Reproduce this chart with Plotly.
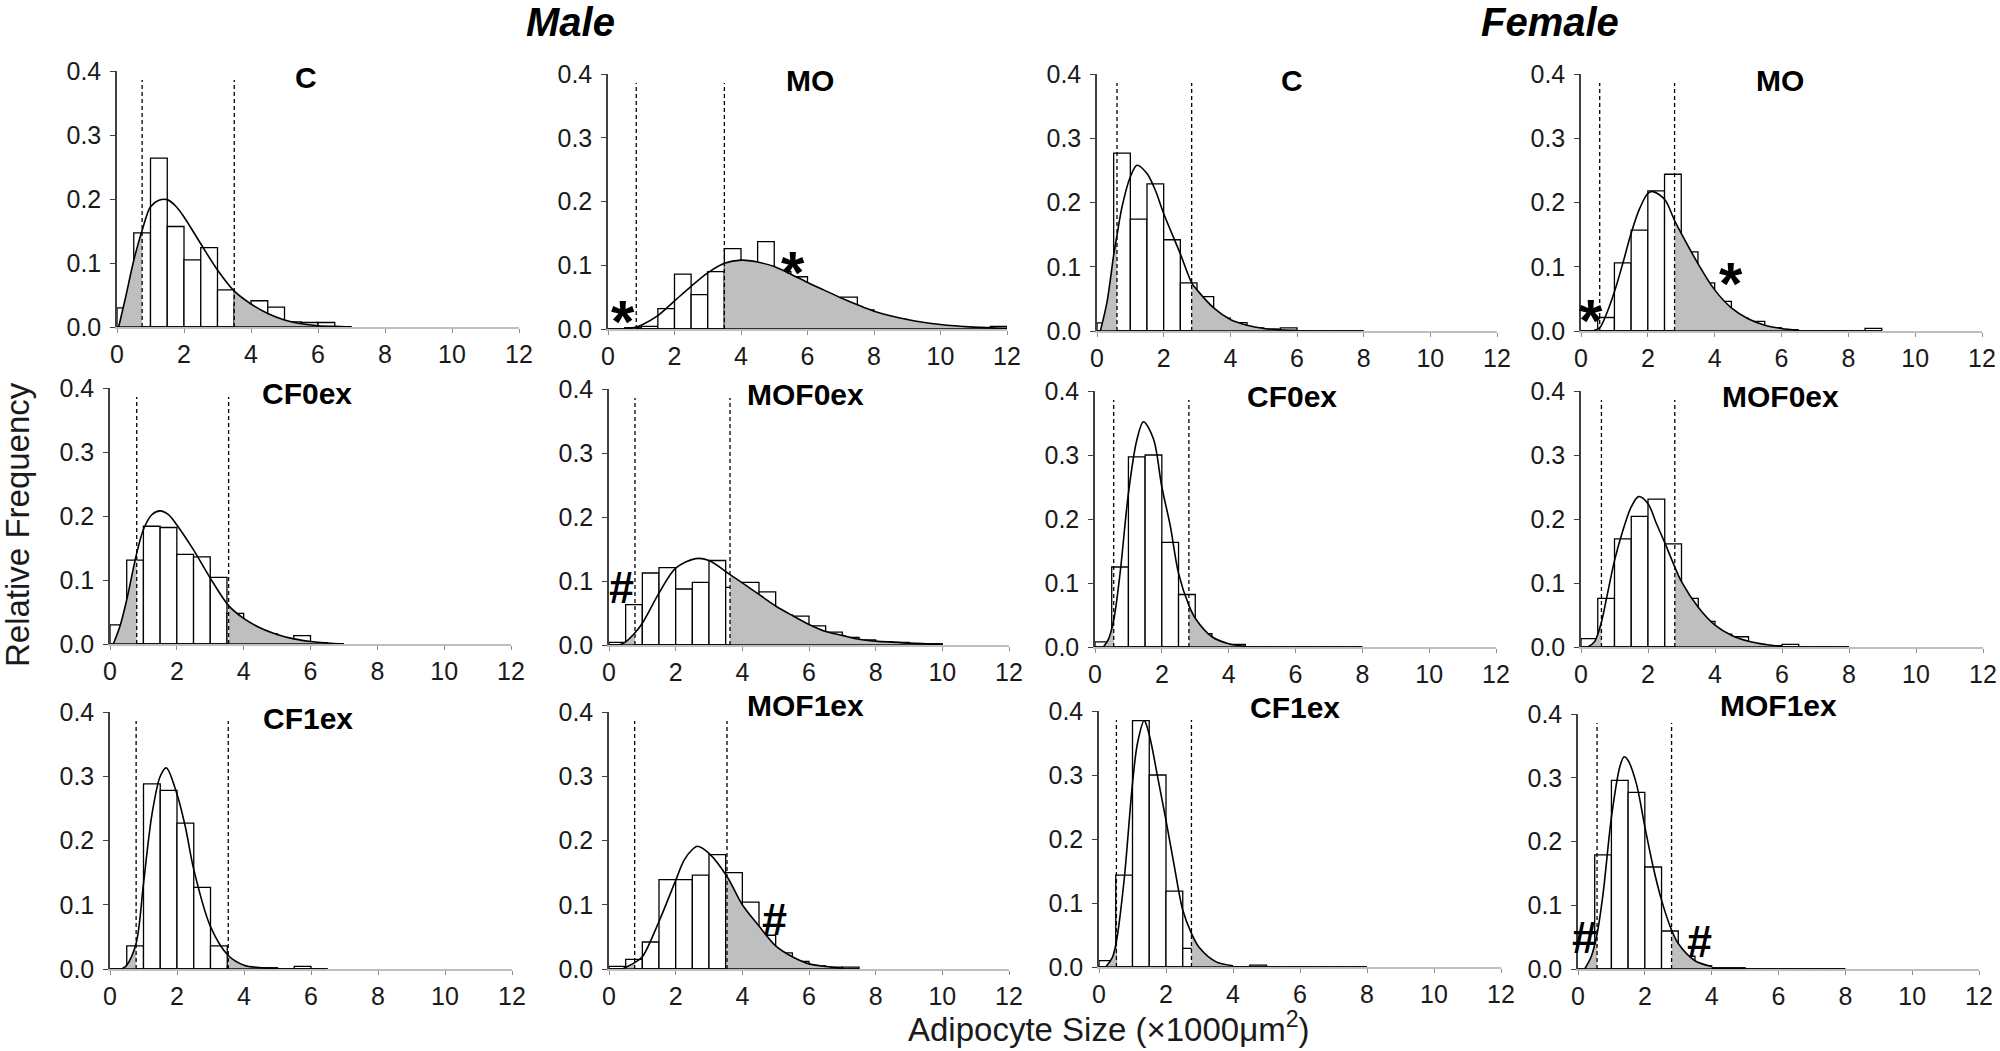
import plotly.graph_objects as go
from plotly.subplots import make_subplots

# ---------------- data ----------------
BIN_WIDTH = 0.5  # histogram bins of 0.5 (x1000 um^2), starting at 0

panel_names = ["C", "MO", "C", "MO",
               "CF0ex", "MOF0ex", "CF0ex", "MOF0ex",
               "CF1ex", "MOF1ex", "CF1ex", "MOF1ex"]
group_names = ["Male", "Female"]
x_ticks = [0, 2, 4, 6, 8, 10, 12]
y_ticks = [0.0, 0.1, 0.2, 0.3, 0.4]

# relative frequency per bin
freq_male_C = [0.03, 0.147, 0.264, 0.157, 0.105, 0.124, 0.058, 0.035, 0.041, 0.031,
               0.008, 0.007, 0.007, 0.0]
freq_male_MO = [0.0, 0.002, 0.004, 0.032, 0.086, 0.054, 0.09, 0.126, 0.10, 0.137,
                0.09, 0.082, 0.06, 0.045, 0.05, 0.03, 0.02, 0.015, 0.01, 0.006,
                0.004, 0.002, 0.002, 0.004]
freq_female_C = [0.0125, 0.277, 0.174, 0.229, 0.142, 0.075, 0.0535, 0.02, 0.013, 0.005,
                 0.003, 0.005, 0.0, 0.0, 0.0, 0.0]
freq_female_MO = [0.0, 0.021, 0.106, 0.157, 0.218, 0.244, 0.123, 0.075, 0.046, 0.02,
                  0.015, 0.005, 0.002, 0.0, 0.0, 0.0, 0.0, 0.004]
freq_male_CF0ex = [0.03, 0.131, 0.184, 0.182, 0.14, 0.136, 0.104, 0.048, 0.025, 0.016,
                   0.008, 0.013, 0.002, 0.0]
freq_male_MOF0ex = [0.004, 0.063, 0.1125, 0.121, 0.0875, 0.098, 0.132, 0.09, 0.098, 0.083,
                    0.047, 0.045, 0.03, 0.02, 0.012, 0.008, 0.005, 0.004, 0.002, 0.002]
freq_female_CF0ex = [0.008, 0.125, 0.297, 0.300, 0.1635, 0.082, 0.021, 0.004, 0.004, 0.0,
                     0.0, 0.0, 0.0, 0.0, 0.0, 0.0]
freq_female_MOF0ex = [0.013, 0.076, 0.169, 0.204, 0.231, 0.161, 0.076, 0.04, 0.02, 0.016,
                      0.004, 0.002, 0.004, 0.0, 0.0, 0.0]
freq_male_CF1ex = [0.0, 0.036, 0.288, 0.278, 0.227, 0.127, 0.036, 0.003, 0.002, 0.002,
                   0.0, 0.004, 0.0]
freq_male_MOF1ex = [0.004, 0.015, 0.042, 0.139, 0.139, 0.146, 0.178, 0.15, 0.104, 0.0525,
                    0.025, 0.012, 0.005, 0.003, 0.003]
freq_female_CF1ex = [0.01, 0.1435, 0.385, 0.300, 0.1185, 0.029, 0.005, 0.0, 0.0, 0.003,
                     0.0, 0.0, 0.0, 0.0, 0.0, 0.0]
freq_female_MOF1ex = [0.0, 0.179, 0.296, 0.277, 0.16, 0.0596, 0.02, 0.005, 0.002, 0.002,
                      0.0, 0.0, 0.0, 0.0, 0.0, 0.0]

# fitted distribution curves
curve_x_male_C = [0.05, 0.25, 0.5, 0.75, 1.0, 1.25, 1.5, 1.75, 2.0, 2.5, 3.0, 3.5, 4.0, 4.5, 5.0, 5.5, 6.0, 6.5, 7.0]
curve_y_male_C = [0.0, 0.045, 0.104, 0.151, 0.188, 0.198, 0.199, 0.189, 0.172, 0.13, 0.089, 0.056, 0.036, 0.021, 0.011, 0.005, 0.002, 0.001, 0.0]
curve_x_male_MO = [0.5, 0.85, 1.0, 1.5, 2.0, 2.5, 3.0, 3.5, 4.0, 4.5, 5.0, 5.5, 6.0, 6.5, 7.0, 7.5, 8.0, 9.0, 10.0, 11.0, 12.0]
curve_y_male_MO = [0.0, 0.003, 0.006, 0.021, 0.044, 0.067, 0.088, 0.103, 0.108, 0.105, 0.098, 0.086, 0.073, 0.061, 0.049, 0.038, 0.028, 0.015, 0.007, 0.003, 0.001]
curve_x_female_C = [0.1, 0.3, 0.5, 0.6, 0.75, 1.0, 1.2, 1.5, 1.75, 2.0, 2.5, 2.84, 3.0, 3.5, 4.0, 4.5, 5.0, 5.5, 6.0]
curve_y_female_C = [0.0, 0.045, 0.118, 0.149, 0.193, 0.24, 0.258, 0.245, 0.219, 0.183, 0.12, 0.075, 0.064, 0.036, 0.018, 0.009, 0.004, 0.002, 0.001]
curve_x_female_MO = [0.35, 0.56, 0.75, 1.0, 1.25, 1.5, 1.75, 2.0, 2.15, 2.5, 2.8, 3.0, 3.5, 4.0, 4.5, 5.0, 5.5, 6.0, 6.5]
curve_y_female_MO = [0.0, 0.005, 0.025, 0.061, 0.105, 0.152, 0.19, 0.214, 0.217, 0.205, 0.172, 0.152, 0.105, 0.064, 0.036, 0.019, 0.009, 0.004, 0.001]
curve_x_male_CF0ex = [0.1, 0.3, 0.5, 0.8, 1.0, 1.25, 1.5, 1.75, 2.0, 2.5, 3.0, 3.55, 4.0, 4.5, 5.0, 5.5, 6.0, 6.5, 7.0]
curve_y_male_CF0ex = [0.0, 0.028, 0.069, 0.142, 0.179, 0.202, 0.208, 0.202, 0.186, 0.147, 0.103, 0.06, 0.04, 0.025, 0.015, 0.008, 0.004, 0.0015, 0.0]
curve_x_male_MOF0ex = [0.3, 0.5, 0.78, 1.0, 1.5, 2.0, 2.6, 3.0, 3.63, 4.0, 4.5, 5.0, 5.5, 6.0, 6.5, 7.0, 7.5, 8.0, 9.0, 10.0]
curve_y_male_MOF0ex = [0.0, 0.005, 0.019, 0.034, 0.081, 0.12, 0.135, 0.132, 0.11, 0.097, 0.079, 0.061, 0.046, 0.032, 0.021, 0.015, 0.009, 0.006, 0.003, 0.001]
curve_x_female_CF0ex = [0.25, 0.4, 0.56, 0.75, 1.0, 1.25, 1.45, 1.75, 2.0, 2.25, 2.5, 2.81, 3.0, 3.5, 4.0, 4.5]
curve_y_female_CF0ex = [0.0, 0.012, 0.042, 0.115, 0.24, 0.323, 0.352, 0.325, 0.25, 0.19, 0.115, 0.065, 0.045, 0.016, 0.005, 0.001]
curve_x_female_MOF0ex = [0.2, 0.4, 0.61, 0.75, 1.0, 1.25, 1.5, 1.72, 2.0, 2.25, 2.5, 2.8, 3.0, 3.5, 4.0, 4.5, 5.0, 5.5, 6.0]
curve_y_female_MOF0ex = [0.0, 0.008, 0.039, 0.073, 0.135, 0.182, 0.219, 0.235, 0.224, 0.193, 0.163, 0.125, 0.102, 0.062, 0.034, 0.018, 0.009, 0.004, 0.001]
curve_x_male_CF1ex = [0.35, 0.5, 0.78, 1.0, 1.25, 1.5, 1.68, 2.0, 2.25, 2.5, 3.0, 3.53, 4.0, 4.5, 5.0]
curve_y_male_CF1ex = [0.0, 0.006, 0.04, 0.133, 0.24, 0.3, 0.313, 0.272, 0.221, 0.155, 0.066, 0.021, 0.006, 0.002, 0.0]
curve_x_male_MOF1ex = [0.4, 0.77, 1.0, 1.5, 2.0, 2.25, 2.5, 2.65, 3.0, 3.54, 4.0, 4.5, 5.0, 5.5, 6.0, 6.5, 7.0]
curve_y_male_MOF1ex = [0.0, 0.01, 0.019, 0.074, 0.138, 0.169, 0.186, 0.191, 0.18, 0.144, 0.1, 0.067, 0.036, 0.019, 0.008, 0.004, 0.001]
curve_x_female_CF1ex = [0.2, 0.4, 0.52, 0.75, 1.0, 1.15, 1.35, 1.5, 1.75, 2.0, 2.25, 2.5, 2.76, 3.0, 3.5, 4.0]
curve_y_female_CF1ex = [0.0, 0.015, 0.04, 0.136, 0.287, 0.35, 0.385, 0.363, 0.297, 0.229, 0.157, 0.089, 0.0525, 0.03, 0.008, 0.002]
curve_x_female_MOF1ex = [0.2, 0.4, 0.57, 0.75, 1.0, 1.25, 1.38, 1.5, 1.75, 2.0, 2.25, 2.5, 2.8, 3.0, 3.5, 4.0]
curve_y_female_MOF1ex = [0.0, 0.02, 0.055, 0.118, 0.238, 0.317, 0.333, 0.327, 0.29, 0.223, 0.16, 0.108, 0.061, 0.04, 0.013, 0.004]

# dashed cut-off lines (lower, upper) per panel
cut_low = [0.75, 0.85, 0.6, 0.56, 0.8, 0.78, 0.56, 0.61, 0.78, 0.77, 0.52, 0.57]
cut_high = [3.5, 3.5, 2.84, 2.8, 3.55, 3.63, 2.81, 2.8, 3.53, 3.54, 2.76, 2.8]

# significance markers: (panel index, symbol)
sig_panels = [1, 1, 3, 3, 5, 9, 11, 11]
sig_symbols = ["*", "*", "*", "*", "#", "#", "#", "#"]

freqs = [freq_male_C, freq_male_MO, freq_female_C, freq_female_MO,
         freq_male_CF0ex, freq_male_MOF0ex, freq_female_CF0ex, freq_female_MOF0ex,
         freq_male_CF1ex, freq_male_MOF1ex, freq_female_CF1ex, freq_female_MOF1ex]
curves_x = [curve_x_male_C, curve_x_male_MO, curve_x_female_C, curve_x_female_MO,
            curve_x_male_CF0ex, curve_x_male_MOF0ex, curve_x_female_CF0ex, curve_x_female_MOF0ex,
            curve_x_male_CF1ex, curve_x_male_MOF1ex, curve_x_female_CF1ex, curve_x_female_MOF1ex]
curves_y = [curve_y_male_C, curve_y_male_MO, curve_y_female_C, curve_y_female_MO,
            curve_y_male_CF0ex, curve_y_male_MOF0ex, curve_y_female_CF0ex, curve_y_female_MOF0ex,
            curve_y_male_CF1ex, curve_y_male_MOF1ex, curve_y_female_CF1ex, curve_y_female_MOF1ex]

# ---------------- layout constants (pixels in a 2000 x 1051 page) ----------------
W, H = 2000, 1051
# [x of 0, x of 12], [y of 0.4, y of 0]
PANEL_PX = [
    ((117, 519), (71, 327)), ((608, 1007), (74, 329)), ((1097, 1497), (74, 331)), ((1581, 1982), (74, 331)),
    ((110, 511), (388, 644)), ((609, 1009), (389, 645)), ((1095, 1496), (391, 647)), ((1581, 1983), (391, 647)),
    ((110, 512), (712, 969)), ((609, 1009), (712, 969)), ((1099, 1501), (711, 967)), ((1578, 1979), (714, 969)),
]
# title centre: x in data units, y as fraction of the panel height
TITLE_POS = [(5.65, 0.975), (6.07, 0.975), (5.84, 0.975), (5.96, 0.975),
             (5.9, 0.98), (5.9, 0.98), (5.9, 0.98), (5.95, 0.98),
             (5.9, 0.975), (5.9, 1.027), (5.85, 1.015), (6.0, 1.032)]
SIG_POS = [(0.44, 0.033), (5.56, 0.11), (0.31, 0.038), (4.5, 0.096),
           (0.36, 0.09), (4.97, 0.077), (0.2, 0.049), (3.65, 0.043)]

FONT = "Liberation Sans, Arial, sans-serif"
TXT = "#1a1a1a"
GRAY = "#bfbfbf"

fig = make_subplots(rows=3, cols=4)

for i in range(12):
    r, c = i // 4 + 1, i % 4 + 1
    f = freqs[i]
    cx, cy = curves_x[i], curves_y[i]
    lo, hi = cut_low[i], cut_high[i]
    centers = [BIN_WIDTH * (k + 0.5) for k in range(len(f))]

    fig.add_trace(go.Bar(x=centers, y=f, width=BIN_WIDTH,
                         marker=dict(color="white", line=dict(color="black", width=1.3)),
                         showlegend=False, hoverinfo="skip"), row=r, col=c)

    # shaded tails under the fitted curve
    lx = [x for x in cx if x <= lo + 1e-9]
    ly = [y for x, y in zip(cx, cy) if x <= lo + 1e-9]
    rx = [x for x in cx if x >= hi - 1e-9]
    ry = [y for x, y in zip(cx, cy) if x >= hi - 1e-9]
    for tx, ty in ((lx, ly), (rx, ry)):
        fig.add_trace(go.Scatter(x=tx, y=ty, mode="lines", fill="tozeroy",
                                 fillcolor=GRAY, line=dict(color=GRAY, width=0, shape="spline"),
                                 showlegend=False, hoverinfo="skip"), row=r, col=c)

    # baseline of the histogram (zero-height bins)
    fig.add_trace(go.Scatter(x=[0, len(f) * BIN_WIDTH], y=[0, 0], mode="lines",
                             line=dict(color="black", width=1.5),
                             showlegend=False, hoverinfo="skip"), row=r, col=c)

    # fitted curve
    fig.add_trace(go.Scatter(x=cx, y=cy, mode="lines",
                             line=dict(color="black", width=1.6, shape="spline", smoothing=0.9),
                             showlegend=False, hoverinfo="skip"), row=r, col=c)

    sfx = "" if i == 0 else str(i + 1)
    for xv in (lo, hi):
        fig.add_shape(type="line", xref="x" + sfx, yref="y" + sfx + " domain",
                      x0=xv, x1=xv, y0=0, y1=0.965,
                      line=dict(color="black", width=1.3, dash="4px,3px"))

    (x0p, x1p), (y1p, y0p) = PANEL_PX[i]
    fig.layout["xaxis" + sfx].update(
        domain=[x0p / W, x1p / W], range=[0, 12], tickvals=x_ticks,
        showline=True, linecolor=GRAY, linewidth=1.5, ticks="outside", ticklen=4,
        tickcolor="#8c8c8c", showgrid=False, zeroline=False, automargin=False,
        tickfont=dict(family=FONT, size=25, color=TXT), anchor="y" + sfx)
    fig.layout["yaxis" + sfx].update(
        domain=[1 - y0p / H, 1 - y1p / H], range=[0, 0.4], tickvals=y_ticks,
        tickformat=".1f", showline=True, linecolor="#404040", linewidth=1.5,
        ticks="outside", ticklen=5, tickcolor="#404040", showgrid=False, zeroline=False,
        automargin=False, ticklabelstandoff=4,
        tickfont=dict(family=FONT, size=25, color=TXT), anchor="x" + sfx)

    tx, ty = TITLE_POS[i]
    fig.add_annotation(x=tx, y=ty, xref="x" + sfx, yref="y" + sfx + " domain",
                       xanchor="center", yanchor="middle",
                       text="<b>%s</b>" % panel_names[i],
                       showarrow=False, font=dict(family=FONT, size=30, color="black"))

for k, p in enumerate(sig_panels):
    sfx = "" if p == 0 else str(p + 1)
    sx, sy = SIG_POS[k]
    sym = sig_symbols[k]
    fig.add_annotation(x=sx, y=sy, xref="x" + sfx, yref="y" + sfx, text="<b>%s</b>" % sym,
                       xanchor="center", yanchor="middle",
                       showarrow=False, yshift=-14 if sym == "*" else 0,
                       font=dict(family=FONT, size=60 if sym == "*" else 45, color="black"))

# group headings and axis titles
fig.add_annotation(x=570 / W, y=1 - 22 / H, xref="paper", yref="paper", showarrow=False,
                   xanchor="center", yanchor="middle",
                   text="<b><i>%s</i></b>" % group_names[0], font=dict(family=FONT, size=40, color="black"))
fig.add_annotation(x=1550 / W, y=1 - 22 / H, xref="paper", yref="paper", showarrow=False,
                   xanchor="center", yanchor="middle",
                   text="<b><i>%s</i></b>" % group_names[1], font=dict(family=FONT, size=40, color="black"))
fig.add_annotation(x=18 / W, y=1 - 525 / H, xref="paper", yref="paper", showarrow=False,
                   xanchor="center", yanchor="middle",
                   textangle=-90, text="Relative Frequency", font=dict(family=FONT, size=33, color=TXT))
fig.add_annotation(x=1108 / W, y=1 - 1027 / H, xref="paper", yref="paper", showarrow=False,
                   xanchor="center", yanchor="middle",
                   text="Adipocyte Size (×1000μm<sup>2</sup>)", font=dict(family=FONT, size=33, color=TXT))

fig.update_layout(width=W, height=H, margin=dict(l=0, r=0, t=0, b=0, pad=0),
                  plot_bgcolor="white", paper_bgcolor="white", barmode="overlay",
                  showlegend=False)

fig.write_html(
    "out.html",
    config={"displayModeBar": False},
    post_script=("var d=document.getElementById('{plot_id}');"
                 "d.style.position='absolute';d.style.left='0px';d.style.top='0px';"
                 "document.body.style.margin='0px';document.body.style.overflow='hidden';"),
)
